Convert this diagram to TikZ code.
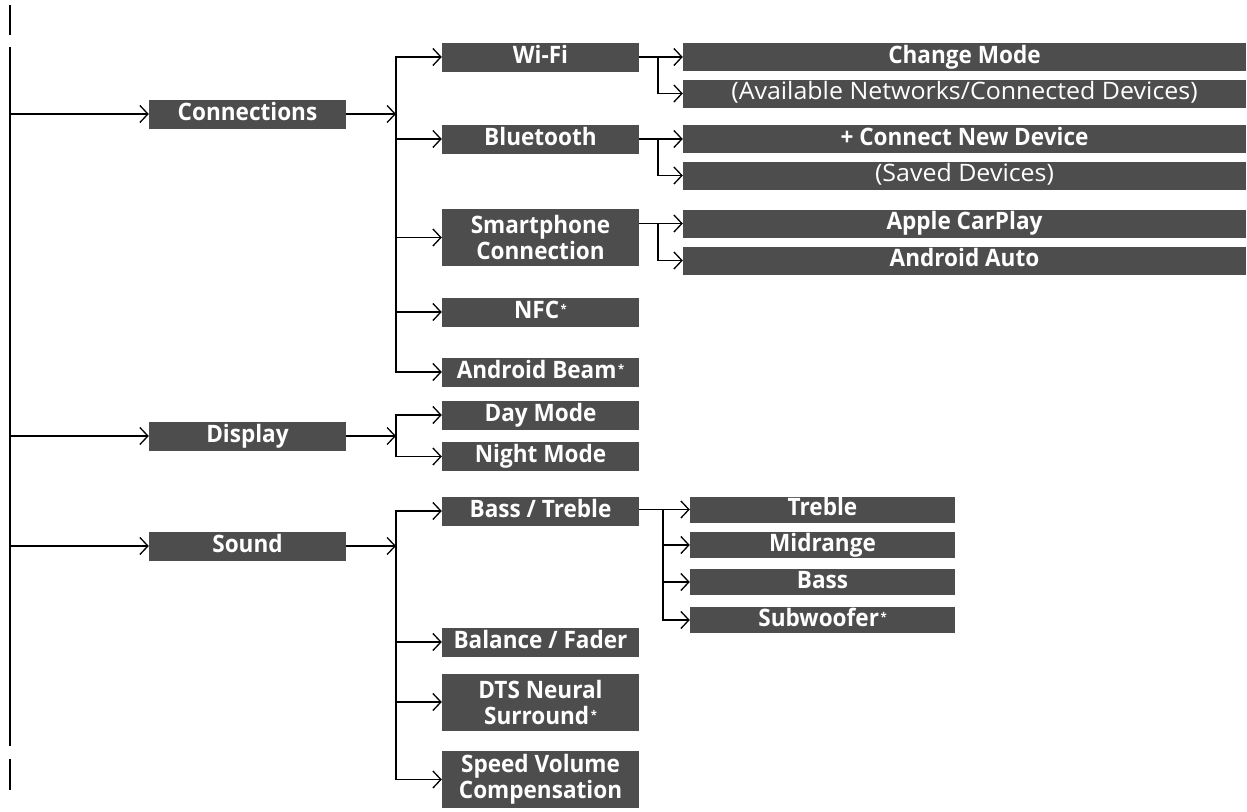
\documentclass[tikz,border=0pt]{standalone}
\usepackage{fontspec}
\setmainfont{Open Sans}[FakeStretch=0.94]
\newfontfamily\regf{Open Sans}[FakeStretch=1.04]
\usetikzlibrary{arrows.meta}
\definecolor{boxgray}{RGB}{77,77,77}
\newcommand{\opt}{\kern1.5pt\raisebox{5pt}{\fontsize{12}{12}\selectfont *}}
\begin{document}
\begin{tikzpicture}[x=1pt,y=-1pt,
  conn/.style={line width=1.5pt,-{Straight Barb[length=8pt,width=17pt,line width=1.3pt]}},
  plain/.style={line width=1.5pt,line cap=rect},
  spine/.style={line width=2pt},
  box/.style={fill=boxgray,text=white,inner sep=0pt,font=\fontsize{24}{26}\selectfont\bfseries,align=center},
  one/.style={box,text height=17pt,text depth=5pt},
  lone/.style={one,minimum width=197pt,minimum height=29pt},
  ltwo/.style={box,minimum width=197pt,minimum height=57pt},
  lw/.style={one,minimum width=563pt,minimum height=28pt},
  ls/.style={one,minimum width=265pt,minimum height=26pt}
]
\useasboundingbox (0,0) rectangle (1247,811);
% left spine
\draw[spine] (10,5) -- (10,35);
\draw[spine] (10,47) -- (10,746);
\draw[spine] (10,759) -- (10,790);
\coordinate (sp) at (10,0);
\coordinate (b1) at (396,0);
\coordinate (b2) at (658,0);
\coordinate (b3) at (663,0);
% level 1
\node[lone] (conn) at (247.5,114) {Connections};
\node[lone] (disp) at (247.5,436) {Display};
\node[lone] (sound) at (247.5,546) {Sound};
% level 2
\node[lone] (wifi) at (540.5,57) {Wi-Fi};
\node[lone] (bt) at (540.5,139) {Bluetooth};
\node[ltwo] (smart) at (540.5,237.5) {Smartphone\\Connection};
\node[lone] (nfc) at (540.5,312) {NFC\opt};
\node[lone] (beam) at (540.5,372) {Android Beam\opt};
\node[lone] (day) at (540.5,415) {Day Mode};
\node[lone] (night) at (540.5,456.5) {Night Mode};
\node[lone] (bass2) at (540.5,511) {Bass / Treble};
\node[lone] (bal) at (540.5,642) {Balance / Fader};
\node[ltwo] (dts) at (540.5,702) {DTS Neural\\Surround\opt};
\node[ltwo] (speed) at (540.5,779.5) {Speed Volume\\Compensation};
% level 3 (connections)
\node[lw] (cm) at (964.5,57) {Change Mode};
\node[lw] (avail) at (964.5,93.5) {\regf\mdseries(Available Networks/Connected Devices)};
\node[lw] (cnd) at (964.5,139) {+ Connect New Device};
\node[lw] (saved) at (964.5,175.5) {\regf\mdseries(Saved Devices)};
\node[lw] (carplay) at (964.5,223.5) {Apple CarPlay};
\node[lw] (aauto) at (964.5,260.5) {Android Auto};
% level 3 (sound)
\node[ls] (treble) at (822.5,509.5) {Treble};
\node[ls] (mid) at (822.5,545) {Midrange};
\node[ls] (bass) at (822.5,582) {Bass};
\node[ls] (sub) at (822.5,620) {Subwoofer\opt};
% spine arrows
\draw[conn] (sp |- conn.west) -- (conn.west);
\draw[conn] (sp |- disp.west) -- (disp.west);
\draw[conn] (sp |- sound.west) -- (sound.west);
% connections branch
\draw[conn] (conn.east) -- (conn.east -| b1);
\draw[plain] (wifi.west -| b1) -- (beam.west -| b1);
\foreach \n in {wifi,bt,smart,nfc,beam}
  \draw[conn] (\n.west -| b1) -- (\n.west);
% display branch
\draw[conn] (disp.east) -- (disp.east -| b1);
\draw[plain] (day.west -| b1) -- (night.west -| b1);
\foreach \n in {day,night}
  \draw[conn] (\n.west -| b1) -- (\n.west);
% sound branch
\draw[conn] (sound.east) -- (sound.east -| b1);
\draw[plain] (bass2.west -| b1) -- (speed.west -| b1);
\foreach \n in {bass2,bal,dts,speed}
  \draw[conn] (\n.west -| b1) -- (\n.west);
% wifi
\draw[conn] (wifi.east) -- (cm.west);
\draw[plain] (wifi.east -| b2) -- (avail.west -| b2);
\draw[conn] (avail.west -| b2) -- (avail.west);
% bluetooth
\draw[conn] (bt.east) -- (cnd.west);
\draw[plain] (bt.east -| b2) -- (saved.west -| b2);
\draw[conn] (saved.west -| b2) -- (saved.west);
% smartphone
\draw[conn] (smart.east |- carplay.west) -- (carplay.west);
\draw[plain] (carplay.west -| b2) -- (aauto.west -| b2);
\draw[conn] (aauto.west -| b2) -- (aauto.west);
% bass / treble
\draw[conn] (bass2.east |- treble.west) -- (treble.west);
\draw[plain] (treble.west -| b3) -- (sub.west -| b3);
\foreach \n in {mid,bass,sub}
  \draw[conn] (\n.west -| b3) -- (\n.west);
\end{tikzpicture}
\end{document}
